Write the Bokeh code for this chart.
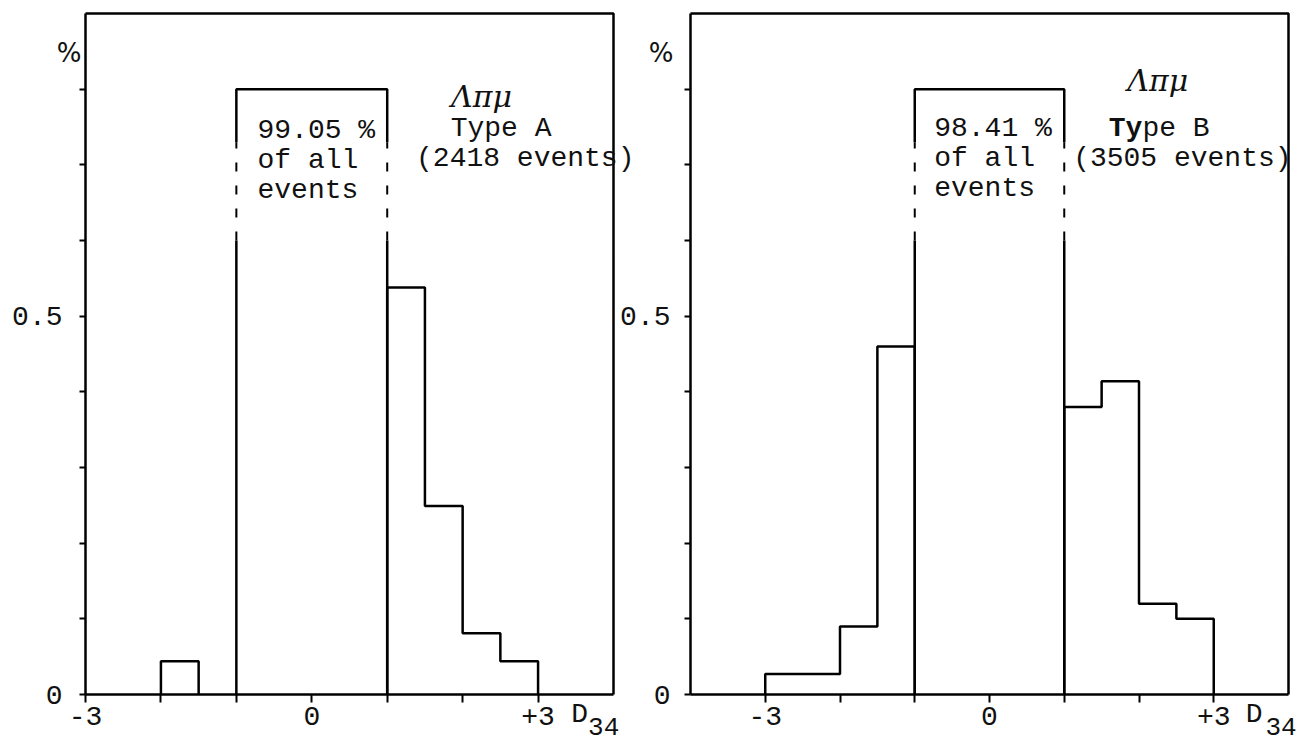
from bokeh.plotting import figure
from bokeh.models import Range1d, FixedTicker, Label, CustomJSTickFormatter
from bokeh.layouts import row
from bokeh.embed import file_html
from bokeh.resources import INLINE

# ---------------- data ----------------
# Panel A (Type A, 2418 events)
a_left_edges = [-2.0, -1.5]
a_left_heights = [0.044]
a_right_edges = [1.0, 1.5, 2.0, 2.5, 3.0]
a_right_heights = [0.538, 0.249, 0.081, 0.044]
a_central_edges = [-1.0, 1.0]
a_central_height = 0.80
a_box_text = ["99.05 %", "of all", "events"]
a_particle = "Λπμ"
a_type_bold, a_type_rest = "", "Type A"
a_events = "(2418 events)"

# Panel B (Type B, 3505 events)
b_left_edges = [-3.0, -2.5, -2.0, -1.5, -1.0]
b_left_heights = [0.027, 0.027, 0.090, 0.460]
b_right_edges = [1.0, 1.5, 2.0, 2.5, 3.0]
b_right_heights = [0.380, 0.414, 0.120, 0.100]
b_central_edges = [-1.0, 1.0]
b_central_height = 0.80
b_box_text = ["98.41 %", "of all", "events"]
b_particle = "Λπμ"
b_type_bold, b_type_rest = "Ty", "pe B"
b_events = "(3505 events)"

x_major_ticks = [-3, 0, 3]
x_minor_ticks = [-2, -1, 1, 2]
y_major_ticks = [0, 0.5]
y_minor_ticks = [0.1, 0.2, 0.3, 0.4, 0.6, 0.7, 0.8]
y_max = 0.9
y_unit_label = "%"
x_var_label, x_var_sub = "D", "34"

FONT = "Liberation Mono"
HAND = "DejaVu Serif"
INK = "#111111"
LW = 2.5
H = 745
PAD_TOP, PAD_BOTTOM = 13, 51          # pixels between canvas edge and box
UY = (H - PAD_TOP - PAD_BOTTOM) / y_max  # pixels per y unit


def step_path(edges, heights):
    xs, ys = [edges[0]], [0.0]
    for i, h in enumerate(heights):
        xs += [edges[i], edges[i + 1]]
        ys += [h, h]
    xs.append(edges[-1])
    ys.append(0.0)
    return xs, ys


def make_panel(box_x, width, pad_left, pad_right, y_standoff, left_edges, left_heights,
               right_edges, right_heights, central_edges, central_height,
               box_text, text_x, text_ys, particle, particle_xy, type_bold, type_rest,
               type_xy, events, events_xy, pct_offset, d_x, sub_x):
    x0, x1 = box_x
    ux = (width - pad_left - pad_right) / (x1 - x0)
    p = figure(width=width, height=H,
               x_range=Range1d(x0 - pad_left / ux, x1 + pad_right / ux),
               y_range=Range1d(-PAD_BOTTOM / UY, y_max + PAD_TOP / UY),
               output_backend="svg", toolbar_location=None,
               min_border_left=0, min_border_right=0, min_border_top=0, min_border_bottom=0)
    p.grid.visible = False
    p.border_fill_color = None
    p.background_fill_color = None
    p.outline_line_color = None

    # axes fixed to the box edges
    xa, ya = p.xaxis[0], p.yaxis[0]
    xa.fixed_location = 0
    ya.fixed_location = x0
    xa.bounds = (x0, x1)
    ya.bounds = (0, y_max)
    xa.ticker = FixedTicker(ticks=x_major_ticks, minor_ticks=x_minor_ticks)
    xa.formatter = CustomJSTickFormatter(code="return tick > 0 ? '+' + tick : String(tick);")
    ya.ticker = FixedTicker(ticks=y_major_ticks, minor_ticks=y_minor_ticks)
    ya.formatter = CustomJSTickFormatter(code="return String(tick);")
    for ax in (xa, ya):
        ax.axis_line_color = "black"
        ax.axis_line_width = LW
        ax.major_tick_line_color = "black"
        ax.minor_tick_line_color = "black"
        ax.major_tick_line_width = 2
        ax.minor_tick_line_width = 2
        ax.major_tick_in = 0
        ax.minor_tick_in = 0
        ax.major_label_text_font = FONT
        ax.major_label_text_font_size = "28px"
        ax.major_label_text_color = INK
    xa.major_tick_out = 8
    xa.minor_tick_out = 8
    xa.major_label_standoff = 4
    ya.major_tick_out = 6
    ya.minor_tick_out = 6
    ya.major_label_standoff = y_standoff

    # top and right edges of the box
    p.line([x0, x1, x1], [y_max, y_max, 0], line_color="black", line_width=LW)

    # histogram steps
    for e, h in ((left_edges, left_heights), (right_edges, right_heights)):
        xs, ys = step_path(e, h)
        p.line(xs, ys, line_color="black", line_width=LW)

    # central (truncated) bin with broken sides
    brk_hi, brk_lo = 0.73, 0.60
    cl, cr = central_edges
    p.line([cl, cl, cr, cr], [brk_hi, central_height, central_height, brk_hi],
           line_color="black", line_width=LW)
    p.segment(x0=[cl, cr], y0=[0, 0], x1=[cl, cr], y1=[brk_lo, brk_lo],
              line_color="black", line_width=LW)
    p.segment(x0=[cl, cr], y0=[brk_lo, brk_lo], x1=[cl, cr], y1=[brk_hi, brk_hi],
              line_color="black", line_width=2, line_dash="9 14")

    def txt(x, y, text, align="left", size="28px", font=FONT, style="normal",
            baseline="alphabetic", x_offset=0):
        p.add_layout(Label(x=x, y=y, text=text, text_align=align, text_baseline=baseline,
                           text_font=font, text_font_size=size, text_font_style=style,
                           text_color=INK, x_offset=x_offset))

    for t, yy in zip(box_text, text_ys):
        txt(text_x, yy, t)
    txt(particle_xy[0], particle_xy[1], particle, align="center", size="30px",
        font=HAND, style="italic")
    w = 0.6 * 28
    if type_bold:
        txt(type_xy[0], type_xy[1], type_bold, align="right", style="bold", x_offset=-w)
        txt(type_xy[0], type_xy[1], type_rest, align="left", x_offset=-w)
    else:
        txt(type_xy[0], type_xy[1], type_rest, align="center")
    txt(events_xy[0], events_xy[1], events, align="center")
    txt(x0, 0.848, y_unit_label, align="right", size="26px", baseline="middle",
        x_offset=pct_offset, font="DejaVu Sans")
    txt(d_x, -0.027, x_var_label, align="center", baseline="middle")
    txt(sub_x, -0.042, x_var_sub, align="center", baseline="middle", size="26px")
    return p


p1 = make_panel((-3, 4), 640, 85, 27, 17, a_left_edges, a_left_heights, a_right_edges,
                a_right_heights, a_central_edges, a_central_height,
                a_box_text, -0.72, [0.745, 0.706, 0.666],
                a_particle, (2.25, 0.79), a_type_bold, a_type_rest, (2.51, 0.748),
                a_events, (2.83, 0.708), -4, 3.55, 3.87)

p2 = make_panel((-4, 4), 686, 78, 10, 14, b_left_edges, b_left_heights, b_right_edges,
                b_right_heights, b_central_edges, b_central_height,
                b_box_text, -0.74, [0.748, 0.708, 0.669],
                b_particle, (2.25, 0.812), b_type_bold, b_type_rest, (2.27, 0.748),
                b_events, (2.58, 0.708), -17, 3.54, 3.90)
p2.margin = (0, 0, 0, -28)

layout = row(p1, p2)
open("out.html", "w").write(file_html(layout, INLINE))
